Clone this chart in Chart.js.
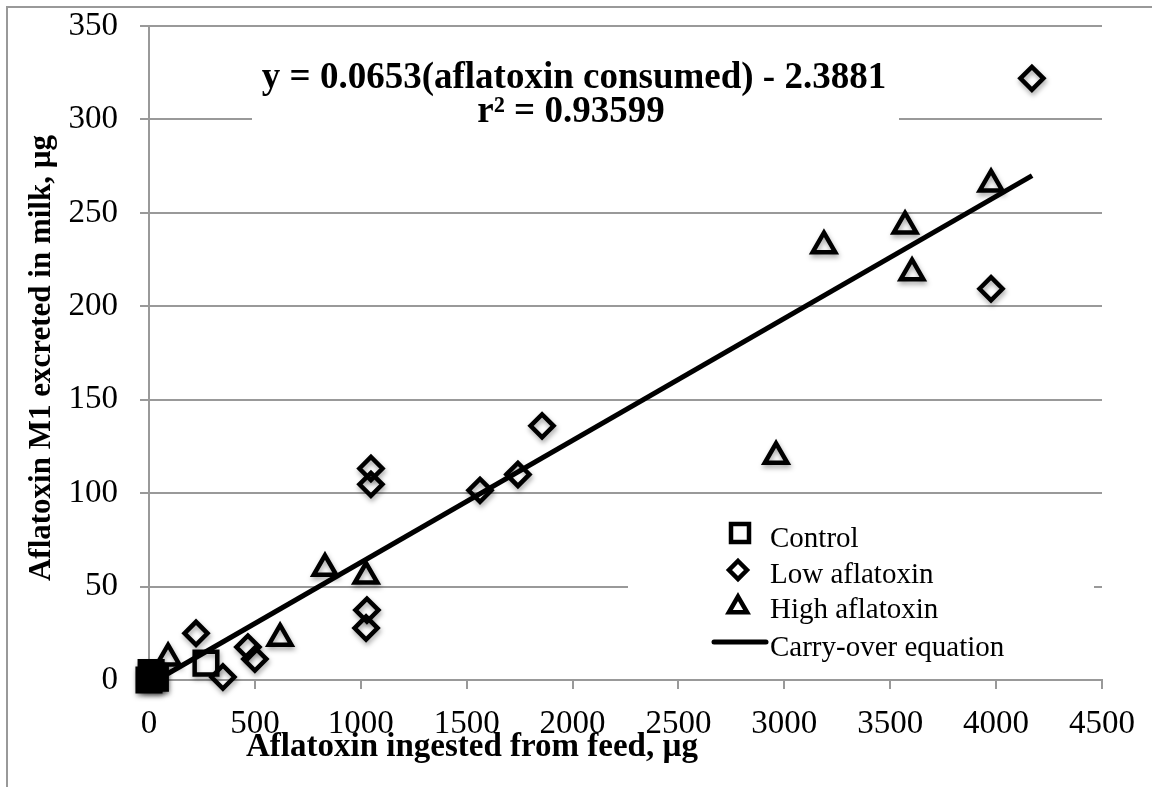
<!DOCTYPE html>
<html>
<head>
<meta charset="utf-8">
<script src="https://cdn.jsdelivr.net/npm/chart.js@4.4.0/dist/chart.umd.min.js"></script>
<style>
  html, body { margin: 0; padding: 0; background: #fff; }
</style>
</head>
<body>
<canvas id="chart" width="1152" height="787"></canvas>
<script>
// Данные
const controlX = [0, 15, 30, 10, 269];
const controlY = [0, 2, 1, 4, 9];
const lowX = [222, 349, 467, 500, 1025, 1029, 1048, 1048, 1563, 1742, 1856, 3976, 4169];
const lowY = [25, 1.6, 17.6, 11.2, 27.8, 37.4, 113.2, 104.7, 101.5, 110, 136, 209.4, 322];
const highX = [90, 619, 831, 1025, 2961, 3187, 3570, 3603, 3976];
const highY = [11.8, 22.4, 59.8, 55.6, 119.7, 232.4, 243, 218, 265.5];
const fitX = [0, 4170];
const fitY = [-2.39, 269.9];
const legendLabels = ['Control', 'Low aflatoxin', 'High aflatoxin', 'Carry-over equation'];
const equationLines = ['y = 0.0653(aflatoxin consumed) - 2.3881', 'r\u00B2 = 0.93599'];
const xTitle = 'Aflatoxin ingested from feed, \u00B5g';
const yTitle = 'Aflatoxin M1 excreted in milk, \u00B5g';

const SERIF = '"Liberation Serif", "Times New Roman", serif';
const GRID = '#999999';

function toPoints(xs, ys) {
    return xs.map((x, i) => ({ x: x, y: ys[i] }));
}

// Простые маркеры для легенды
function drawMarker(ctx, style, x, y, r) {
    ctx.beginPath();
    if (style === 'rect') {
        ctx.rect(x - r, y - r, 2 * r, 2 * r);
    } else if (style === 'diamond') {
        ctx.moveTo(x, y - r);
        ctx.lineTo(x + r, y);
        ctx.lineTo(x, y + r);
        ctx.lineTo(x - r, y);
        ctx.closePath();
    } else {
        ctx.moveTo(x, y - r);
        ctx.lineTo(x + r * 0.866, y + r * 0.5);
        ctx.lineTo(x - r * 0.866, y + r * 0.5);
        ctx.closePath();
    }
    ctx.stroke();
}

// Рамка, белые подложки, текст и легенда
const overlayPlugin = {
    id: 'overlay',
    beforeDraw(chart) {
        const ctx = chart.ctx;
        ctx.save();
        ctx.fillStyle = '#fff';
        ctx.fillRect(0, 0, chart.width, chart.height);
        ctx.strokeStyle = GRID;
        ctx.lineWidth = 2;
        ctx.beginPath();
        ctx.moveTo(7, chart.height);
        ctx.lineTo(7, 7);
        ctx.lineTo(chart.width, 7);
        ctx.stroke();
        ctx.restore();
    },
    beforeDatasetsDraw(chart) {
        const ctx = chart.ctx;
        ctx.save();
        ctx.fillStyle = '#fff';
        ctx.fillRect(252, 38, 647, 97);
        ctx.fillRect(628, 505, 466, 165);
        ctx.restore();
    },
    afterDraw(chart) {
        const ctx = chart.ctx;
        ctx.save();
        ctx.fillStyle = '#000';
        ctx.strokeStyle = '#000';

        // Уравнение регрессии
        ctx.font = 'bold 37px ' + SERIF;
        ctx.textAlign = 'center';
        ctx.textBaseline = 'alphabetic';
        ctx.fillText(equationLines[0], 574, 88);
        ctx.fillText(equationLines[1], 571, 122);

        // Легенда
        ctx.lineWidth = 4.5;
        drawMarker(ctx, 'rect', 740, 533, 9);
        drawMarker(ctx, 'diamond', 738, 570, 9);
        drawMarker(ctx, 'triangle', 738, 607, 10.5);
        ctx.lineWidth = 5;
        ctx.lineCap = 'round';
        ctx.beginPath();
        ctx.moveTo(714, 642);
        ctx.lineTo(766, 642);
        ctx.stroke();
        ctx.font = '29px ' + SERIF;
        ctx.textAlign = 'left';
        const baselines = [547, 583, 618, 656];
        legendLabels.forEach((t, i) => ctx.fillText(t, 770, baselines[i]));

        // Подписи осей
        ctx.font = 'bold 33px ' + SERIF;
        ctx.textAlign = 'center';
        ctx.fillText(xTitle, 472, 756);
        ctx.translate(50, 358);
        ctx.rotate(-Math.PI / 2);
        ctx.font = 'bold 31px ' + SERIF;
        ctx.fillText(yTitle, 0, 0);
        ctx.restore();
    }
};

// Тень у маркеров, как в исходнике
const shadowPlugin = {
    id: 'markerShadow',
    beforeDatasetDraw(chart, args) {
        const ctx = chart.ctx;
        ctx.save();
        if (args.index < 3) {
            ctx.shadowColor = 'rgba(0, 0, 0, 0.35)';
            ctx.shadowBlur = 5;
            ctx.shadowOffsetX = 1;
            ctx.shadowOffsetY = 3;
        }
    },
    afterDatasetDraw(chart) {
        chart.ctx.restore();
    }
};

const markerBase = {
    showLine: false,
    clip: false,
    pointBorderColor: '#000',
    pointBorderWidth: 4.5
};

new Chart(document.getElementById('chart'), {
    type: 'scatter',
    data: {
        datasets: [
            Object.assign({}, markerBase, {
                label: legendLabels[0],
                data: toPoints(controlX, controlY),
                pointStyle: 'rect',
                pointRadius: 16,
                pointBackgroundColor: controlX.map(x => x < 100 ? '#000' : 'rgba(0,0,0,0)')
            }),
            Object.assign({}, markerBase, {
                label: legendLabels[1],
                data: toPoints(lowX, lowY),
                pointStyle: 'rectRot',
                pointRadius: 11.5,
                pointBackgroundColor: 'rgba(0,0,0,0)'
            }),
            Object.assign({}, markerBase, {
                label: legendLabels[2],
                data: toPoints(highX, highY),
                pointStyle: 'triangle',
                pointRadius: 13,
                pointBackgroundColor: 'rgba(0,0,0,0)'
            }),
            {
                label: legendLabels[3],
                data: toPoints(fitX, fitY),
                showLine: true,
                clip: false,
                borderColor: '#000',
                borderWidth: 5,
                pointRadius: 0
            }
        ]
    },
    options: {
        responsive: false,
        animation: false,
        events: [],
        layout: { padding: { top: 26, right: 50, left: 0, bottom: 0 } },
        plugins: {
            legend: { display: false },
            tooltip: { enabled: false }
        },
        scales: {
            x: {
                type: 'linear',
                min: 0,
                max: 4500,
                ticks: {
                    stepSize: 500,
                    autoSkip: false,
                    maxRotation: 0,
                    padding: 16,
                    color: '#000',
                    font: { family: SERIF, size: 33 },
                    callback: value => String(value)
                },
                grid: { drawOnChartArea: false, tickLength: 9, color: GRID, lineWidth: 2 },
                border: { color: GRID, width: 2 },
                afterFit(scale) { scale.height = 107; }
            },
            y: {
                min: 0,
                max: 350,
                ticks: {
                    stepSize: 50,
                    padding: 22,
                    color: '#000',
                    font: { family: SERIF, size: 33 }
                },
                grid: { tickLength: 9, color: GRID, lineWidth: 2 },
                border: { color: GRID, width: 2 },
                afterFit(scale) {
                    scale.width = 149;
                    scale.paddingTop = 0;
                    scale.paddingBottom = 0;
                }
            }
        }
    },
    plugins: [overlayPlugin, shadowPlugin]
});
</script>
</body>
</html>
